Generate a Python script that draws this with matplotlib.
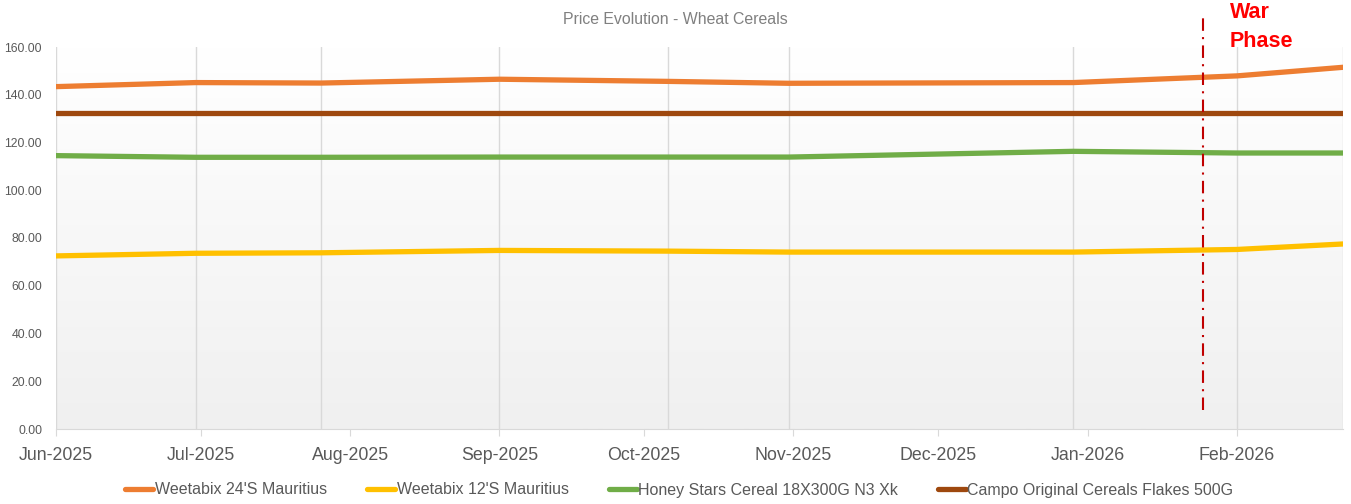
import matplotlib
matplotlib.use("Agg")
import matplotlib.pyplot as plt
import matplotlib.dates as mdates
import numpy as np
import pandas as pd

plt.rcParams['font.family'] = ['Liberation Sans', 'DejaVu Sans']

# Data
dates = pd.to_datetime(['2025-06-01', '2025-06-30', '2025-07-26', '2025-09-01', '2025-10-06',
                        '2025-10-31', '2025-12-29', '2026-02-01', '2026-02-23'])
weetabix_24 = [143.4, 145.1, 144.9, 146.5, 145.6, 144.8, 145.1, 147.9, 151.5]
weetabix_12 = [72.5, 73.6, 73.8, 74.8, 74.5, 74.1, 74.1, 75.2, 77.5]
honey_stars = [114.5, 113.8, 113.8, 113.9, 113.9, 113.9, 116.3, 115.6, 115.6]
campo_flakes = [132.4, 132.4, 132.4, 132.4, 132.4, 132.4, 132.4, 132.4, 132.4]

series_names = ["Weetabix 24'S Mauritius", "Weetabix 12'S Mauritius",
                "Honey Stars Cereal 18X300G N3 Xk", "Campo Original Cereals Flakes 500G"]
series_colors = ['#ED7D31', '#FFC000', '#70AD47', '#9E480E']
month_ticks = pd.date_range('2025-06-01', '2026-02-01', freq='MS')
war_date = pd.Timestamp('2026-01-25')

fig = plt.figure(figsize=(13.51, 5.04), dpi=100)
ax = fig.add_axes([56 / 1351, 1 - 429 / 504, (1343 - 56) / 1351, (429 - 47) / 504])

# background gradient: white at top, light grey at bottom
grad = np.linspace(1.0, 0.0, 256).reshape(-1, 1)
ax.imshow(grad, extent=[0, 1, 0, 1], transform=ax.transAxes, aspect='auto',
          cmap=matplotlib.colors.LinearSegmentedColormap.from_list('g', ['#f0f0f0', '#ffffff']),
          zorder=0)

# vertical gridlines at the data points
for d in dates:
    ax.axvline(d, color='#d9d9d9', lw=1, zorder=1)

for vals, name, col in zip([weetabix_24, weetabix_12, honey_stars, campo_flakes],
                           series_names, series_colors):
    ax.plot(dates, vals, color=col, lw=3.8, solid_capstyle='round', label=name, zorder=3)

ax.set_xlim(dates[0], dates[-1])
ax.set_ylim(0, 160)
ax.set_yticks(np.arange(0, 161, 20))
ax.set_yticklabels([f'{v:.2f}' for v in np.arange(0, 161, 20)])
ax.set_xticks(month_ticks)
ax.xaxis.set_major_formatter(mdates.DateFormatter('%b-%Y'))

ax.tick_params(axis='y', length=0, pad=10, labelsize=8.8, labelcolor='#595959')
ax.tick_params(axis='x', length=5, color='#d9d9d9', pad=8, labelsize=12.8, labelcolor='#595959')

for s in ['top', 'right', 'left']:
    ax.spines[s].set_visible(False)
ax.spines['bottom'].set_color('#d9d9d9')

# war phase marker
ax.plot([war_date, war_date], [8, 174], color='#c00000', lw=1.5, ls=(0, (6, 3, 1, 3)),
        clip_on=False, zorder=4)
ax.text(war_date + pd.Timedelta(days=5.5), 174.5, 'War', color='red', fontsize=15.5,
        fontweight='bold', va='center', ha='left', clip_on=False)
ax.text(war_date + pd.Timedelta(days=5.5), 162.3, 'Phase', color='red', fontsize=15.5,
        fontweight='bold', va='center', ha='left', clip_on=False)

fig.text(0.5, 1 - 20 / 504, 'Price Evolution - Wheat Cereals', ha='center', va='center',
         fontsize=11.4, color='#808080')

fig.legend(loc='center', bbox_to_anchor=(0.503, 1 - 490 / 504), ncol=4, frameon=False,
           fontsize=11.5, handlelength=1.75, handletextpad=0.1, columnspacing=2.5,
           labelcolor='#595959')

fig.savefig('out.png', dpi=100)
